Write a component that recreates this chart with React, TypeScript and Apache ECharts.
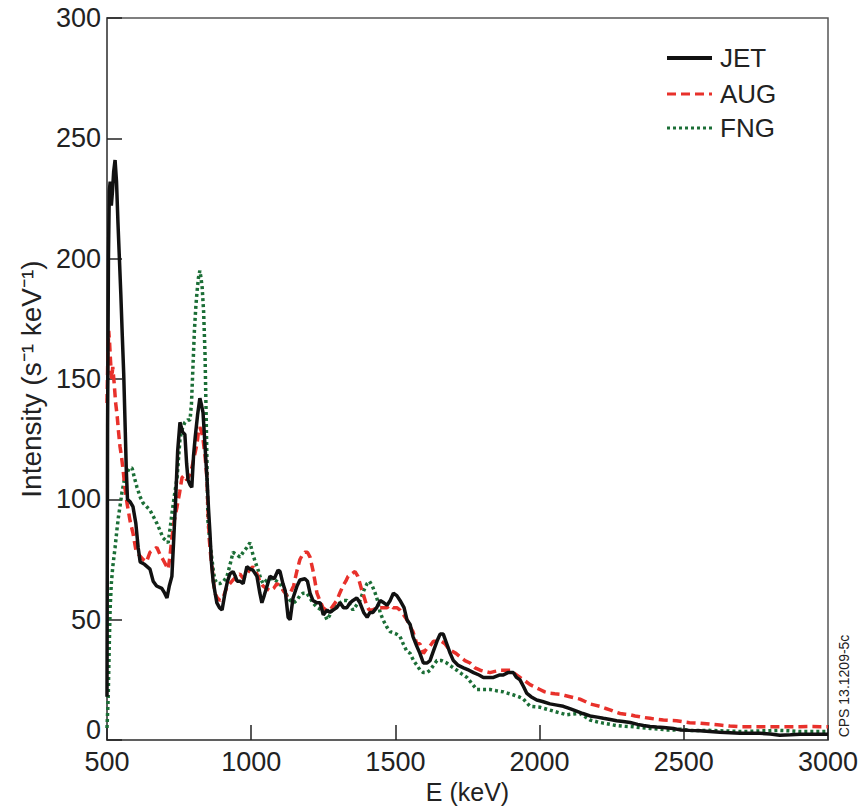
import React, { useEffect, useRef } from "react";
import * as echarts from "echarts";

const xTicks = [500, 1000, 1500, 2000, 2500, 3000];
const yTicks = [0, 50, 100, 150, 200, 250, 300];
const legendNames = ["JET", "AUG", "FNG"];
const legendColors = ["#111111", "#e8312b", "#1b6e36"];

const jetE = [500,502,505,508,511,515,519,523,528,533,538,543,548,553,558,563,567,571,580,590,600,608,615,630,649,660,672,690,700,708,716,725,732,738,745,753,762,770,776,781,788,794,800,806,814,822,828,833,840,847,852,857,862,868,875,881,890,899,909,918,926,937,945,951,961,972,985,996,1006,1020,1030,1037,1045,1055,1065,1080,1093,1100,1110,1118,1128,1135,1145,1159,1169,1186,1195,1204,1214,1228,1239,1250,1263,1273,1284,1297,1308,1320,1332,1343,1353,1366,1377,1390,1402,1412,1422,1435,1447,1460,1471,1482,1493,1505,1516,1530,1540,1551,1561,1574,1585,1597,1610,1620,1632,1644,1655,1666,1678,1690,1701,1718,1736,1755,1771,1790,1805,1825,1840,1860,1874,1890,1909,1920,1932,1945,1955,1970,1990,2010,2036,2060,2082,2105,2128,2150,2175,2200,2221,2245,2267,2290,2314,2340,2360,2383,2406,2430,2464,2487,2520,2556,2590,2625,2660,2695,2730,2764,2800,2833,2870,2903,2940,2972,3000];
const jetI = [18,130,200,228,232,222,228,236,241,232,215,200,185,168,152,130,112,100,99,97,90,80,74,73,71,66,64,63,61,59,64,68,85,100,120,132,128,127,115,108,106,105,118,126,135,142,139,136,122,108,96,86,74,66,61,57,55,54,61,66,69,70,68,66,66,65,72,71,70.6,68,61,57,60,64,68,67,70.6,70,65,62,51,50,59,64,66.5,67,66,61,58,57,57,52,54,53,54,55,57,55,55,57,58,59,57,53,51,53,53,55,58,57,56,58,61,60,58,55,50,48,43,39,36,32,32,33,37,41,44,44,40,36,33,31,30,29,28,27,26,26,26,27,27,28,28,26,25,22,19.5,18,16.6,16,15,14.5,14,13,12,11,10,9.5,9,8.5,8,7.7,7.3,6.5,6,5.6,5.4,5.2,4.8,4.2,4,3.8,3.5,3.2,3,2.8,2.8,2.8,2.5,2,2.2,2.4,2.4,2.4,2.4];

const augE = [500,503,506,509,512,516,520,525,530,535,540,545,550,556,562,570,580,590,600,610,625,637,649,660,673,684,694,703,712,718,725,733,743,752,760,768,777,786,794,803,812,817,822,828,833,840,847,850,855,860,864,869,874,883,892,905,916,926,937,950,961,973,985,996,1006,1020,1030,1041,1053,1065,1078,1089,1100,1112,1124,1135,1147,1158,1169,1178,1186,1195,1204,1214,1221,1228,1238,1249,1260,1273,1285,1297,1307,1318,1328,1336,1348,1360,1370,1377,1384,1390,1400,1409,1420,1438,1455,1471,1482,1492,1505,1516,1528,1540,1551,1561,1574,1585,1597,1609,1620,1632,1649,1660,1672,1684,1695,1710,1724,1741,1759,1776,1794,1810,1828,1845,1863,1880,1898,1915,1932,1950,1967,1984,2001,2018,2036,2053,2071,2088,2105,2122,2140,2158,2175,2192,2209,2227,2244,2261,2279,2297,2314,2331,2348,2365,2383,2406,2429,2452,2475,2500,2520,2556,2590,2625,2660,2695,2730,2764,2800,2833,2870,2903,2940,2972,3000];
const augI = [140,160,170,165,158,150,155,148,140,135,128,122,118,112,105,98,91,86,79,77,75,74,78,79,80,77,75,73,71,76,84,91,97,103,109,110,108,110,113,118,123,128,130,128,125,118,108,96,83,76,72,66,61,59,58,60,63.6,65,66.5,68,69,67,69,71,72,69,66,64,63,62,63,65,64,62,60,61,64,70,75,77,78,78,76,70.6,66,61,58,55,54,54,56,58,61,64,66,68,69,70,68,65,62,60,56,54,54,55,55,55,56,55,55,54,52,50,47,45,40,40,36,38,39,41,41,41,40,38,37,36,34.6,33,32,30,29,28.5,28,28.5,29,29,29,27.5,26,24.5,23,22,21,20,19.4,19.2,19,18.5,18,17.5,17,16,15,14.5,14,13.2,12.5,11.7,11,10.7,10.5,10,9.7,9.3,9,8.6,8.3,8.1,8,7.5,7.2,7,6.6,6.2,5.8,5.5,5.5,5.5,5.5,5.5,5.5,5.5,5.6,5.5,5.5];

const fngE = [500,504,508,511,515,520,528,535,540,545,552,560,569,578,587,595,604,615,625,637,649,660,673,684,694,703,712,718,725,733,743,748,753,760,770,780,788,793,798,803,808,812,817,822,826,830,835,840,843,846,848,850,857,864,869,874,883,892,905,916,927,937,950,961,972,985,996,1006,1014,1024,1033,1041,1050,1059,1068,1076,1088,1100,1112,1124,1135,1147,1158,1169,1180,1193,1204,1214,1230,1245,1255,1263,1273,1284,1296,1308,1320,1332,1343,1353,1365,1377,1390,1402,1410,1420,1430,1438,1447,1457,1470,1482,1493,1504,1516,1527,1539,1551,1563,1575,1586,1597,1609,1620,1632,1644,1660,1678,1695,1713,1730,1748,1765,1782,1805,1828,1850,1875,1893,1910,1927,1944,1955,1967,1984,2001,2025,2048,2071,2094,2117,2140,2158,2175,2198,2221,2244,2267,2296,2325,2354,2383,2412,2440,2465,2487,2520,2556,2590,2625,2660,2695,2730,2764,2800,2833,2870,2903,2940,2972,3000];
const fngI = [5,17,40,55,65,72,80,88,93,97,103,108,111,113,113,109,105,101,98.5,97,95.5,93,90,87,84,83,82,87,94,101,109,117,125,129,132,133,133,140,155,170,180,186,192,195,192,188,178,160,140,120,105,91,82,75,70,66.5,65,65,66,68,73,78,77,76,78,80,82,77,74,70.6,67,65,66,67,67,67,66,65,62,60,58,57,58,60,61,61,59,57,55,54,52,50,52,55,56,57,58,58,56,54,56,58,62,65,66,64,61,58,53,50,47,45,44.5,44,43,40,37,36,33,31,29,28,28,29,31,33,33,32,30.5,29,27.5,26,23.5,21,21,21,20.5,20,19.3,18.7,18,17,15.5,14,13.8,13.6,12.8,12,11.2,10.5,10.8,11,9.6,8.3,7.6,7,6.5,6,5.7,5.5,5.1,4.8,4.5,4.2,4.2,4.5,4,3.9,4,3.8,3.7,3.5,3.6,3.8,3.9,4,3.8,3.5,3.5,3.5,3.5];

const zip = (xs: number[], ys: number[]) => xs.map((x, i) => [x, ys[i]]);

const FONT = "'Liberation Sans Narrow', 'Liberation Sans', Arial, sans-serif";
const DASHES: (number[] | null)[] = [null, [9, 5], [3, 3]];

export default function App() {
  const ref = useRef<HTMLDivElement>(null);
  useEffect(() => {
    const chart = echarts.init(ref.current!, null, { renderer: "svg" });
    const legendY = [58, 94, 128];
    const legendGraphics: any[] = [];
    legendNames.forEach((n, i) => {
      legendGraphics.push({
        type: "line",
        shape: { x1: 667, y1: legendY[i], x2: 712, y2: legendY[i] },
        style: { stroke: legendColors[i], lineWidth: i === 0 ? 4 : 3, lineDash: DASHES[i] || undefined },
      });
      legendGraphics.push({
        type: "text", x: 720, y: legendY[i],
        style: { text: n, fontSize: 26, fill: "#222", fontFamily: FONT, verticalAlign: "middle", align: "left" },
      });
    });
    chart.setOption({
      animation: false,
      backgroundColor: "#ffffff",
      grid: {
        left: 107, right: 35, top: 18, bottom: 66,
        outerBoundsMode: "none", containLabel: false,
        show: true, borderColor: "#555", borderWidth: 1.5, backgroundColor: "transparent",
      },
      xAxis: {
        type: "value", min: xTicks[0], max: xTicks[xTicks.length - 1], interval: 500,
        name: "E (keV)", nameLocation: "middle", nameGap: 32,
        nameTextStyle: { fontSize: 25, color: "#222", fontFamily: FONT },
        axisLine: { lineStyle: { color: "#555", width: 1.5 } },
        axisTick: { inside: true, length: 15, lineStyle: { color: "#222", width: 1.5 } },
        axisLabel: { fontSize: 27, color: "#222", margin: 8, fontFamily: FONT, formatter: (v: number) => String(v) },
        splitLine: { show: false },
      },
      yAxis: {
        type: "value", min: yTicks[0], max: yTicks[yTicks.length - 1], interval: 50,
        name: "Intensity (s\u207B\u00B9 keV\u207B\u00B9)", nameLocation: "middle", nameGap: 62,
        nameTextStyle: { fontSize: 28, color: "#222", fontFamily: FONT },
        axisLine: { lineStyle: { color: "#555", width: 1.5 } },
        axisTick: { inside: true, length: 15, lineStyle: { color: "#222", width: 1.5 } },
        axisLabel: {
          fontSize: 27, color: "#222", margin: 6, fontFamily: FONT,
          formatter: (v: number) => (v === 0 ? "{z|0}" : String(v)),
          rich: { z: { fontSize: 27, color: "#222", fontFamily: FONT, padding: [0, 0, 20, 0] } },
        },
        splitLine: { show: false },
      },
      series: [
        {
          name: "FNG", type: "line", data: zip(fngE, fngI), showSymbol: false, symbol: "none",
          lineStyle: { color: legendColors[2], width: 3.5, type: [3, 3] }, z: 2,
        },
        {
          name: "AUG", type: "line", data: zip(augE, augI), showSymbol: false, symbol: "none",
          lineStyle: { color: legendColors[1], width: 3.5, type: [9, 5] }, z: 3,
        },
        {
          name: "JET", type: "line", data: zip(jetE, jetI), showSymbol: false, symbol: "none",
          lineStyle: { color: legendColors[0], width: 3.5 }, z: 4,
        },
      ],
      graphic: [
        ...legendGraphics,
        {
          type: "text", x: 844, y: 686, rotation: Math.PI / 2,
          style: { text: "CPS 13.1209-5c", fontSize: 14, fill: "#222", fontFamily: FONT, align: "center", verticalAlign: "middle" },
        },
      ],
    });
    return () => chart.dispose();
  }, []);
  return <div ref={ref} style={{ position: "fixed", left: 0, top: 0, width: 863, height: 806 }} />;
}
